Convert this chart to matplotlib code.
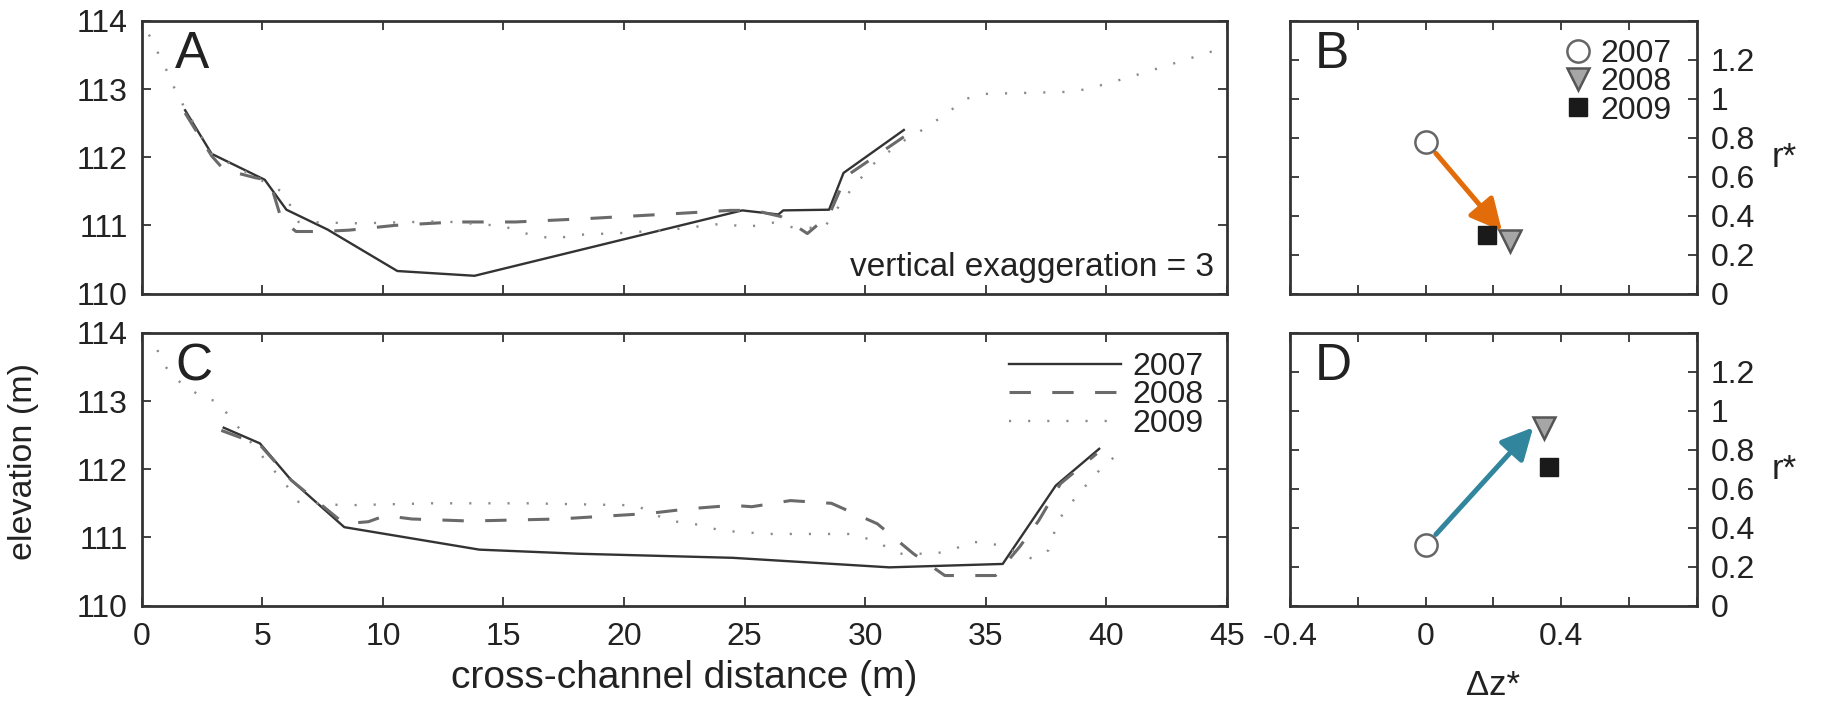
import matplotlib
matplotlib.use("Agg")
import matplotlib.pyplot as plt

plt.rcParams['font.family'] = ['Liberation Sans', 'DejaVu Sans']
plt.rcParams['text.color'] = '#222222'
plt.rcParams['axes.labelcolor'] = '#222222'
plt.rcParams['xtick.color'] = '#333333'
plt.rcParams['ytick.color'] = '#333333'
plt.rcParams['xtick.labelcolor'] = '#222222'
plt.rcParams['ytick.labelcolor'] = '#222222'

# ---------------- data ----------------
years = ['2007', '2008', '2009']

# Panel A profiles
x2007_A = [1.8, 2.9, 5.1, 6.0, 7.7, 10.6, 13.8, 24.9, 26.4, 26.6, 28.5, 29.1, 31.6]
y2007_A = [112.69, 112.05, 111.67, 111.23, 110.94, 110.33, 110.26, 111.22, 111.16, 111.22, 111.23, 111.77, 112.40]
x2008_A = [1.8, 2.9, 3.4, 4.7, 5.3, 5.8, 6.4, 7.5, 8.6, 10.5, 13.0, 15.5, 18.5, 22.0, 24.4, 25.4,
           26.5, 27.0, 27.6, 28.5, 29.2, 31.6]
y2008_A = [112.65, 112.02, 111.82, 111.7, 111.66, 111.08, 110.91, 110.91, 110.93, 111.0, 111.05, 111.05,
           111.1, 111.17, 111.22, 111.22, 111.13, 111.02, 110.88, 111.15, 111.72, 112.3]
x2009_A = [0.3, 0.65, 1.0, 1.5, 2.9, 4.5, 5.9, 6.5, 9.0, 12.5, 15.0, 15.8, 17.1, 18.0, 20.0, 22.0, 24.2,
           25.0, 26.2, 27.0, 28.3, 28.6, 29.4, 30.3, 31.4, 32.6, 33.7, 34.2, 35.0, 38.4, 39.2, 41.0, 43.0, 44.8]
y2009_A = [113.8, 113.55, 113.3, 112.9, 112.05, 111.75, 111.48, 111.05, 111.03, 111.06, 110.99, 110.89,
           110.8, 110.86, 110.89, 110.94, 111.03, 110.97, 111.04, 110.97, 110.96, 111.13, 111.52, 111.89,
           112.2, 112.45, 112.73, 112.86, 112.93, 112.96, 113.0, 113.18, 113.4, 113.6]

# Panel C profiles
x2007_C = [3.4, 4.9, 6.2, 8.4, 14.0, 18.1, 24.5, 31.0, 35.7, 37.9, 39.7]
y2007_C = [112.61, 112.38, 111.84, 111.15, 110.82, 110.76, 110.70, 110.56, 110.61, 111.76, 112.30]
x2008_C = [3.3, 4.9, 6.2, 8.4, 9.4, 10.1, 11.2, 13.6, 17.3, 21.0, 22.7, 24.5, 25.3, 26.9, 28.6, 30.5,
           32.0, 33.3, 35.4, 36.4, 37.2, 38.1, 39.6]
y2008_C = [112.57, 112.36, 111.84, 111.2, 111.23, 111.32, 111.27, 111.24, 111.27, 111.35, 111.42, 111.47,
           111.45, 111.54, 111.5, 111.2, 110.76, 110.44, 110.44, 110.86, 111.25, 111.79, 112.23]
x2009_C = [0.65, 0.93, 1.4, 1.85, 2.5, 3.15, 3.6, 6.1, 6.5, 8.4, 12.0, 16.0, 20.5, 21.8, 23.2, 24.0, 26.0,
           29.6, 30.9, 31.5, 32.9, 33.7, 34.4, 35.0, 35.75, 36.9, 37.6, 38.0, 38.75, 39.64, 40.7]
y2009_C = [113.75, 113.53, 113.33, 113.21, 113.06, 112.99, 112.79, 111.72, 111.52, 111.47, 111.5, 111.5,
           111.47, 111.25, 111.18, 111.1, 111.05, 111.05, 110.86, 110.76, 110.76, 110.83, 110.93, 110.93,
           110.86, 110.69, 110.81, 111.25, 111.6, 111.96, 112.3]

# Panels B and D (dz*, r*) for 2007, 2008, 2009
dz_B = [0.0, 0.25, 0.18]
r_B = [0.78, 0.27, 0.30]
dz_D = [0.0, 0.35, 0.365]
r_D = [0.31, 0.91, 0.71]
arrow_B = [(0.03, 0.72), (0.225, 0.32)]
arrow_D = [(0.03, 0.365), (0.317, 0.915)]

x_ticks_prof = [0, 5, 10, 15, 20, 25, 30, 35, 40, 45]
y_ticks_prof = [110, 111, 112, 113, 114]
x_ticks_dz = [-0.4, -0.2, 0, 0.2, 0.4, 0.6, 0.8]
x_ticklabels_dz = ['-0.4', '', '0', '', '0.4', '', '']
y_ticks_r = [0, 0.2, 0.4, 0.6, 0.8, 1.0, 1.2, 1.4]
y_ticklabels_r = ['0', '0.2', '0.4', '0.6', '0.8', '1', '1.2', '']

# ---------------- styles ----------------
W, H = 1824, 701
fig = plt.figure(figsize=(W / 100, H / 100), dpi=100)

def frac(l, t, r, b):
    return [l / W, (H - b) / H, (r - l) / W, (b - t) / H]

axA = fig.add_axes(frac(141.7, 21, 1227, 293.5))
axC = fig.add_axes(frac(141.7, 333, 1227, 605.5))
axB = fig.add_axes(frac(1290, 21, 1697, 293.5))
axD = fig.add_axes(frac(1290, 333, 1697, 605.5))

TICK_FS = 23
spine_col = '#333333'

line_styles = {
    '2007': dict(color='#333333', lw=1.7, ls='-'),
    '2008': dict(color='#6a6a6a', lw=2.2, ls=(0, (7.0, 7.0))),
    '2009': dict(color='#8a8a8a', lw=1.7, ls=(0, (0.9, 7.2))),
}

def style_axes(ax):
    for s in ax.spines.values():
        s.set_linewidth(2.0)
        s.set_color(spine_col)
    ax.tick_params(direction='in', length=6.5, width=1.3, top=True, right=True,
                   labelsize=TICK_FS, pad=12)

for ax, profs in [(axA, [(x2007_A, y2007_A), (x2008_A, y2008_A), (x2009_A, y2009_A)]),
                  (axC, [(x2007_C, y2007_C), (x2008_C, y2008_C), (x2009_C, y2009_C)])]:
    for yr, (xs, ys) in zip(years, profs):
        ax.plot(xs, ys, label=yr, **line_styles[yr])
    ax.set_xlim(0, 45)
    ax.set_ylim(110, 114)
    ax.set_xticks(x_ticks_prof)
    ax.set_yticks(y_ticks_prof)
    style_axes(ax)
    ax.tick_params(axis='y', pad=10)

axA.tick_params(labelbottom=False)
axC.set_xticklabels([str(v) for v in x_ticks_prof])

axA.text(0.031, 0.826, 'A', transform=axA.transAxes, fontsize=37, ha='left', va='baseline')
axC.text(0.031, 0.826, 'C', transform=axC.transAxes, fontsize=37, ha='left', va='baseline')
axA.text(0.988, 0.066, 'vertical exaggeration = 3', transform=axA.transAxes,
         fontsize=24, ha='right', va='baseline')

axC.legend(loc='upper right', bbox_to_anchor=(0.978, 0.93), frameon=False,
           fontsize=TICK_FS, handlelength=3.5, handletextpad=0.35, labelspacing=-0.05,
           borderpad=0, borderaxespad=0)

# markers
mk = {
    '2007': dict(marker='o', ms=16, mfc='white', mec='#666666', mew=1.8),
    '2008': dict(marker='v', ms=16, mfc='#a6a6a6', mec='#555555', mew=1.8),
    '2009': dict(marker='s', ms=13, mfc='#1a1a1a', mec='#1a1a1a', mew=1.0),
}

for ax, dz, r, arr, col, letter in [(axB, dz_B, r_B, arrow_B, '#E36C0A', 'B'),
                                    (axD, dz_D, r_D, arrow_D, '#31859C', 'D')]:
    ax.annotate('', xy=arr[1], xytext=arr[0],
                arrowprops=dict(arrowstyle='-|>,head_length=0.4,head_width=0.2',
                                color=col, lw=3.6, mutation_scale=48,
                                shrinkA=0, shrinkB=0), zorder=2)
    for i, yr in enumerate(years):
        ax.plot([dz[i]], [r[i]], ls='none', label=yr, zorder=3, **mk[yr])
    ax.set_xlim(-0.4, 0.8)
    ax.set_ylim(0, 1.4)
    ax.set_xticks(x_ticks_dz)
    ax.set_yticks(y_ticks_r)
    style_axes(ax)
    ax.tick_params(axis='y', labelleft=False, labelright=True, pad=10)
    ax.set_xticklabels(x_ticklabels_dz)
    ax.set_yticklabels(y_ticklabels_r)
    ax.text(0.061, 0.826, letter, transform=ax.transAxes, fontsize=37, ha='left', va='baseline')
    ax.yaxis.set_label_position('right')
    ax.set_ylabel('r*', rotation=0, fontsize=25, va='center', ha='left', labelpad=12)

axB.tick_params(labelbottom=False)
axB.legend(loc='upper right', bbox_to_anchor=(0.937, 0.935), frameon=False,
           fontsize=TICK_FS, handlelength=0.8, handletextpad=0.3, labelspacing=-0.05,
           borderpad=0, borderaxespad=0, numpoints=1)
axD.set_xlabel('Δz*', fontsize=25, labelpad=12)

fig.text(684 / W, 1 - 688 / H, 'cross-channel distance (m)', fontsize=28, ha='center', va='baseline')
fig.text(24 / W, 1 - 462 / H, 'elevation (m)', fontsize=24.5, ha='center', va='center', rotation=90)

fig.savefig('out.png', dpi=100)
